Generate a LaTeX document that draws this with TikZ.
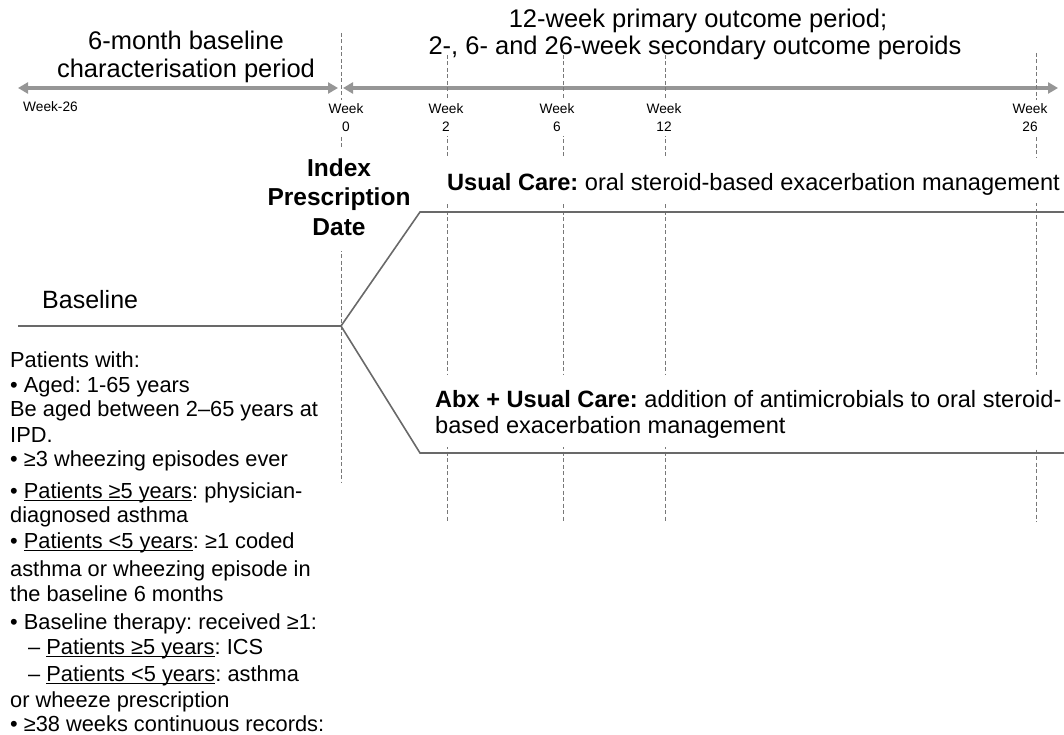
\documentclass[tikz,border=0pt]{standalone}
\usepackage{fontspec}
\setmainfont{Liberation Sans}
\usetikzlibrary{arrows.meta}

\definecolor{arrowgray}{RGB}{150,150,150}
\definecolor{linegray}{RGB}{105,105,105}
\definecolor{dashgray}{RGB}{120,120,120}

% underline that sits just below the baseline
\newcommand\ulin[1]{\sbox0{#1}\rlap{\rule[-3.4pt]{\wd0}{1.1pt}}\usebox0}

\newcommand\titlefont{\fontsize{25.5}{28}\selectfont}
\newcommand\armfont{\fontsize{23.6}{26}\selectfont}
\newcommand\headfont{\fontsize{24.5}{29}\selectfont\bfseries}
\newcommand\leftfont{\fontsize{21.8}{24}\selectfont}
\newcommand\weekfont{\fontsize{13.7}{18}\selectfont}

\begin{document}
\frenchspacing
\begin{tikzpicture}[x=1pt,y=-1pt,
  period/.style={draw=arrowgray, line width=3.5pt,
    {Triangle[length=10pt,width=11pt]}-{Triangle[length=10pt,width=11pt]}},
  guide/.style={draw=dashgray, line width=0.9pt, dash pattern=on 4pt off 2.5pt},
  branch/.style={draw=linegray, line width=1.6pt, line join=miter},
  mask/.style={fill=white},
  txt/.style={inner sep=0pt, text=black},
  title/.style={txt, font=\titlefont, anchor=base},
  arm/.style={txt, font=\armfont, anchor=base west},
  head/.style={txt, font=\headfont, anchor=base},
  lefttxt/.style={txt, font=\leftfont, anchor=base west},
  wk/.style={font=\weekfont, align=center, fill=white, inner xsep=2pt, inner ysep=4pt},
]
\useasboundingbox (0,0) rectangle (1064,735);

% period arrows along the time axis
\coordinate (am26) at (18,88);
\coordinate (aw0l) at (338,88);
\coordinate (aw0r) at (343,88);
\coordinate (aend) at (1058,88);
\draw[period] (am26) -- (aw0l);
\draw[period] (aw0r) -- (aend);

% dashed week guides
\draw[guide] (341,33) coordinate (g0t) -- (341,482) coordinate (g0b);
\draw[guide] (447,55) coordinate (g2t) -- (447,522) coordinate (g2b);
\draw[guide] (563,55) coordinate (g6t) -- (563,522) coordinate (g6b);
\draw[guide] (665,55) coordinate (g12t) -- (665,522) coordinate (g12b);
\draw[guide] (1036,53) coordinate (g26t) -- (1036,522) coordinate (g26b);

% baseline and the two treatment arms
\coordinate (bstart) at (18,326);
\coordinate (split) at (341,326);
\coordinate (ucorner) at (420,212);
\coordinate (uend) at (1064,212);
\coordinate (acorner) at (420,453);
\coordinate (aendl) at (1064,453);
\draw[branch] (bstart) -- (split);
\draw[branch] (split) -- (ucorner) -- (uend);
\draw[branch] (split) -- (acorner) -- (aendl);

% period titles
\node[title] (tl1) at (186,50) {6-month baseline};
\node[title] (tl2) at (186,78) {characterisation period};
\node[title] (tr1) at (698,28) {12-week primary outcome period;};
\node[title] (tr2) at (695,55) {2-, 6- and 26-week secondary outcome peroids};

% week labels
\node[txt, font=\weekfont, anchor=base west] (wm26) at (23,112) {Week-26};
\node[wk] (w0) at (346,118) {Week\\0};
\node[wk] (w2) at (446,118) {Week\\2};
\node[wk] (w6) at (557,118) {Week\\6};
\node[wk] (w12) at (664,118) {Week\\12};
\node[wk] (w26) at (1030,118) {Week\\26};

% index prescription date
\fill[mask] (322,148) rectangle (360,251);
\node[head] (ipd1) at (339,177) {Index};
\node[head] (ipd2) at (339,206) {Prescription};
\node[head] (ipd3) at (339,235) {Date};

% arm labels
\fill[mask] (430,158) rectangle (1064,203);
\node[arm] (uc) at (447,191) {\textbf{Usual Care:} oral steroid-based exacerbation management};
\fill[mask] (425,375) rectangle (1064,447);
\node[arm] (ab1) at (435,407) {\textbf{Abx + Usual Care:} addition of antimicrobials to oral steroid-};
\node[arm] (ab2) at (435,433) {based exacerbation management};

% baseline label
\node[txt, font=\fontsize{25}{28}\selectfont, anchor=base west] (bl) at (42,308) {Baseline};

% eligibility criteria
\node[lefttxt] (c1) at (10,367) {Patients with:};
\node[lefttxt] (c2) at (10,392) {• Aged: 1-65 years};
\node[lefttxt] (c3) at (10,416) {Be aged between 2–65 years at};
\node[lefttxt] (c4) at (10,442) {IPD.};
\node[lefttxt] (c5) at (10,466) {• ≥3 wheezing episodes ever};
\node[lefttxt] (c6) at (10,498) {• \ulin{Patients ≥5 years}: physician-};
\node[lefttxt] (c7) at (10,522) {diagnosed asthma};
\node[lefttxt] (c8) at (10,548) {• \ulin{Patients <5 years}: ≥1 coded};
\node[lefttxt] (c9) at (10,576) {asthma or wheezing episode in};
\node[lefttxt] (c10) at (10,601) {the baseline 6 months};
\node[lefttxt] (c11) at (10,629) {• Baseline therapy: received ≥1:};
\node[lefttxt] (c12) at (28,654) {– \ulin{Patients ≥5 years}: ICS};
\node[lefttxt] (c13) at (28,681) {– \ulin{Patients <5 years}: asthma};
\node[lefttxt] (c14) at (10,707) {or wheeze prescription};
\node[lefttxt] (c15) at (10,731) {• ≥38 weeks continuous records:};
\end{tikzpicture}
\end{document}
